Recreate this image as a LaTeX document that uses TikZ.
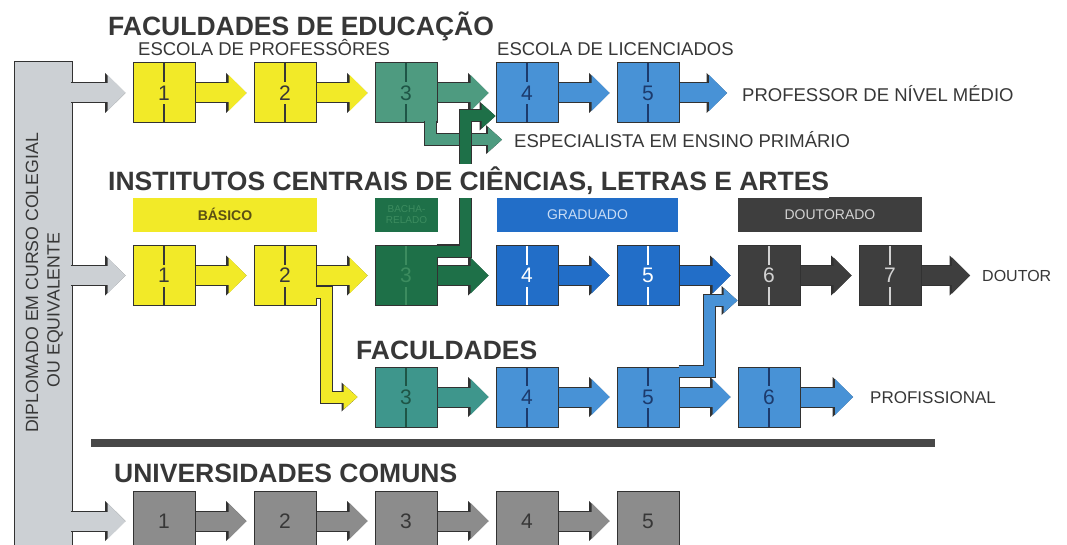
\documentclass[tikz,border=0pt]{standalone}
\usepackage{fontspec}
\setmainfont{Liberation Sans}
\usetikzlibrary{arrows.meta}

\definecolor{yel}{RGB}{242,234,40}
\definecolor{teala}{RGB}{78,155,128}
\definecolor{tealb}{RGB}{62,150,140}
\definecolor{dgreen}{RGB}{30,112,72}
\definecolor{lblue}{RGB}{72,146,214}
\definecolor{sblue}{RGB}{34,110,200}
\definecolor{coal}{RGB}{62,62,62}
\definecolor{ugray}{RGB}{140,140,140}
\definecolor{lgray}{RGB}{204,208,212}
\definecolor{edge}{RGB}{50,50,50}
\definecolor{ink}{RGB}{55,55,55}
\definecolor{navy}{RGB}{28,58,108}
\definecolor{dteal}{RGB}{30,85,70}
\definecolor{sepgray}{RGB}{72,72,72}
\definecolor{olive}{RGB}{90,80,20}
\definecolor{pgreen}{RGB}{60,140,95}
\definecolor{pblue}{RGB}{200,220,245}
\definecolor{pgray}{RGB}{210,210,210}

\newcommand{\hdfont}{\fontsize{26.5}{30}\selectfont\bfseries}
\newcommand{\sbfont}{\fontsize{18.5}{20}\selectfont}
\newcommand{\sdfont}{\fontsize{17.7}{20}\selectfont}
\newcommand{\dgfont}{\fontsize{21}{21}\selectfont}
\newcommand{\bdfont}{\fontsize{14}{14}\selectfont}

\tikzstyle{stage} = [rectangle, minimum width = 62pt, minimum height = 60pt,
	inner sep = 0pt, draw = edge, line width = 1pt, font = \dgfont]
\tikzstyle{band} = [rectangle, minimum height = 35pt, inner sep = 0pt, font = \bdfont]
\tikzstyle{head} = [anchor = base west, inner sep = 0pt, text = ink, font = \hdfont]
\tikzstyle{sub} = [anchor = base west, inner sep = 0pt, text = ink, font = \sbfont]
\tikzstyle{flow} = [line width = 19pt, shorten > = 7pt,
	-{Triangle[length = 18pt, width = 36pt, line width = 0pt]},
	preaction = {draw = edge, line width = 21pt,
		-{Triangle[length = 20.5pt, width = 40pt, line width = 0pt]}}]
\tikzstyle{elbow} = [line width = 11pt,
	-{Triangle[length = 14pt, width = 25pt, line width = 0pt]},
	preaction = {draw = edge, line width = 13pt,
		-{Triangle[length = 16pt, width = 29pt, line width = 0pt]}}]

\tikzset{split/.style = {text = #1, path picture = {
	\draw [line width = 2.2pt, draw = #1]
		(path picture bounding box.north) -- ++(0,-19pt)
		(path picture bounding box.south) -- ++(0,19pt);}}}

\begin{document}
\begin{tikzpicture}[x = 1pt, y = 1pt, node distance = 121pt]

\useasboundingbox (0,0) rectangle (1067,-545);

% entry bar
\node (Diploma) [rectangle, draw = edge, line width = 1pt, fill = lgray,
	minimum width = 58pt, minimum height = 490pt] at (43,-307) {};
\node (Dip1) [rotate = 90, text = ink, font = \sdfont] at (32,-283)
	{DIPLOMADO EM CURSO COLEGIAL};
\node (Dip2) [rotate = 90, text = ink, font = \sdfont] at (55,-310)
	{OU EQUIVALENTE};

% faculdades de educacao
\node (FacEdu) [head] at (108,-35.5) {FACULDADES DE EDUCAÇÃO};
\node (EscProf) [sub] at (138,-55.6) {ESCOLA DE PROFESSÔRES};
\node (EscLic) [sub] at (497,-55.6) {ESCOLA DE LICENCIADOS};
\node (Prof) [sub] at (742,-101.6) {PROFESSOR DE NÍVEL MÉDIO};
\node (Espec) [sub] at (514,-147.6) {ESPECIALISTA EM ENSINO PRIMÁRIO};

\node (T1) [stage, fill = yel, split = ink] at (164,-93) {1};
\node (T2) [stage, fill = yel, split = ink, right of = T1] {2};
\node (T3) [stage, fill = teala, split = dteal, right of = T2] {3};
\node (T4) [stage, fill = lblue, split = navy, right of = T3] {4};
\node (T5) [stage, fill = lblue, split = navy, right of = T4] {5};

% institutos centrais
\node (Basico) [band, fill = yel, minimum width = 184pt, text = olive,
	font = \bdfont\bfseries] at (225,-214.5) {BÁSICO};
\node (Bacha) [band, fill = dgreen, minimum width = 63pt, align = center,
	text = pgreen, font = \fontsize{10}{11}\selectfont]
	at (406.5,-214.5) {BACHA-\\RELADO};
\node (Grad) [band, fill = sblue, minimum width = 181pt, text = pblue]
	at (587.5,-214.5) {GRADUADO};
\node (Dout) [band, fill = coal, minimum width = 184pt, text = pgray]
	at (830,-214.5) {DOUTORADO};

\node (I1) [stage, fill = yel, split = ink] at (164,-275.5) {1};
\node (I2) [stage, fill = yel, split = ink, right of = I1] {2};
\node (I3) [stage, fill = dgreen, split = pgreen, right of = I2] {3};
\node (I4) [stage, fill = sblue, split = white, right of = I3] {4};
\node (I5) [stage, fill = sblue, split = white, right of = I4] {5};
\node (I6) [stage, fill = coal, split = pgray, right of = I5] {6};
\node (I7) [stage, fill = coal, split = pgray, right of = I6] {7};
\node (Doutor) [anchor = base west, inner sep = 0pt, text = ink,
	font = \fontsize{16}{16}\selectfont] at (982,-281.7) {DOUTOR};

% faculdades
\node (Fac) [head] at (356,-359.5) {FACULDADES};
\node (F3) [stage, fill = tealb, split = dteal] at (406,-397) {3};
\node (F4) [stage, fill = lblue, split = navy, right of = F3] {4};
\node (F5) [stage, fill = lblue, split = navy, right of = F4] {5};
\node (F6) [stage, fill = lblue, split = navy, right of = F5] {6};
\node (Profis) [anchor = base west, inner sep = 0pt, text = ink,
	font = \fontsize{17}{17}\selectfont] at (870,-403) {PROFISSIONAL};

% universidades comuns
\draw [line width = 8pt, sepgray] (91,-443) -- (935,-443);
\node (Univ) [head] at (114,-482.5) {UNIVERSIDADES COMUNS};
\node (U1) [stage, fill = ugray, text = ink] at (164,-521) {1};
\node (U2) [stage, fill = ugray, text = ink, right of = U1] {2};
\node (U3) [stage, fill = ugray, text = ink, right of = U2] {3};
\node (U4) [stage, fill = ugray, text = ink, right of = U3] {4};
\node (U5) [stage, fill = ugray, text = ink, right of = U4] {5};

% arrows
\draw [flow, lgray, shorten < = -2pt] (Diploma.east |- T1.west) -- (T1.west);
\draw [flow, lgray, shorten < = -2pt] (Diploma.east |- I1.west) -- (I1.west);
\draw [flow, lgray, shorten < = -2pt] (Diploma.east |- U1.west) -- (U1.west);

\draw [flow, yel] (T1) -- (T2);
\draw [flow, yel] (T2) -- (T3);
\draw [flow, teala] (T3) -- (T4);
\draw [flow, lblue] (T4) -- (T5);
\draw [flow, lblue, shorten > = 15pt] (T5) -- (T5 -| Prof.west);
\draw [elbow, teala, shorten < = -2pt, shorten > = 12pt]
	([xshift = -7pt]T3.south east) |- (Espec.west);

\draw [flow, yel] (I1) -- (I2);
\draw [flow, yel] (I2) -- (I3);
\draw [flow, dgreen] (I3) -- (I4);
\draw [flow, sblue] (I4) -- (I5);
\draw [flow, sblue] (I5) -- (I6);
\draw [flow, coal] (I6) -- (I7);
\draw [flow, coal, shorten > = 12pt] (I7) -- (I7 -| Doutor.west);
\draw [elbow, dgreen, shorten < = -1pt]
	([yshift = -6pt]I3.north east) -- ++(28pt,0) |- ([yshift = -23pt]T4.west);
\draw [elbow, yel, shorten < = -1pt, shorten > = 17pt]
	([yshift = 14pt]I2.south east) -- ++(10pt,0) |- (F3.west);

\draw [flow, tealb] (F3) -- (F4);
\draw [flow, lblue] (F4) -- (F5);
\draw [flow, lblue] (F5) -- (F6);
\draw [flow, lblue, shorten > = 17pt] (F6) -- (F6 -| Profis.west);
\draw [elbow, lblue, shorten < = -1pt]
	([yshift = -5pt]F5.north east) -- ++(30pt,0) |- ([yshift = -25pt]I6.west);

\draw [flow, ugray] (U1) -- (U2);
\draw [flow, ugray] (U2) -- (U3);
\draw [flow, ugray] (U3) -- (U4);
\draw [flow, ugray] (U4) -- (U5);

% title over the rising arrow
\node (Inst) [head, fill = white, inner ysep = 3pt] at (108,-190.5)
	{INSTITUTOS CENTRAIS DE CIÊNCIAS, LETRAS E ARTES};

\end{tikzpicture}
\end{document}
